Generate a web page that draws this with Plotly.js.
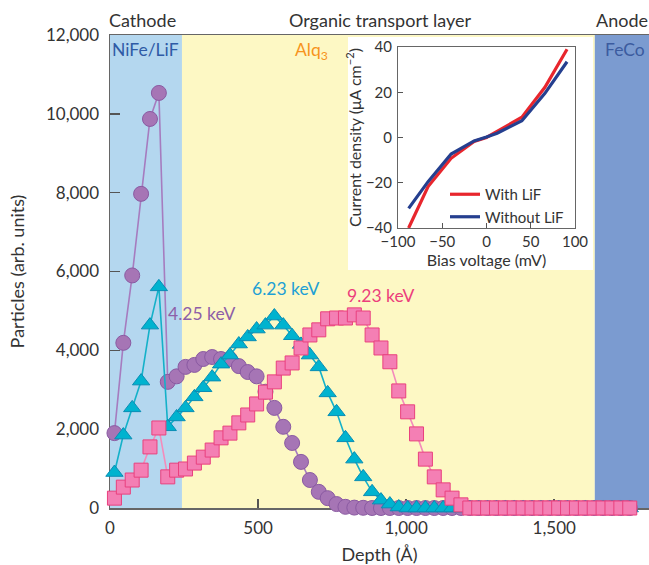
<!DOCTYPE html>
<html>
<head>
<meta charset="utf-8">
<script src="https://cdn.plot.ly/plotly-3.0.1.min.js"></script>
<style>html,body{margin:0;padding:0;background:#fff;}#chart{width:649px;height:565px;}</style>
</head>
<body>
<div id="chart"></div>
<script>
// ---- Main panel data (depth in Å, particles in arb. units) ----
const depth = [15,45,75,105,135,165,195,225,255,285,315,345,375,405,435,465,495,525,555,585,615,645,675,705,735,765,795,825,855,885,915,945,975,1005,1035,1065,1095,1125,1155,1185,1215,1245,1275,1305,1335,1365,1395,1425,1455,1485,1515,1545,1575,1605,1635,1665,1695,1725,1755];
const kev425 = [1900,4190,5900,7970,9870,10530,3200,3340,3580,3630,3780,3830,3780,3780,3600,3450,3340,2950,2540,2060,1650,1170,710,410,250,100,30,10,5,0,0,0,0,0,0,0,0,0,0,0,0,0,0,0,0,0,0,0,0,0,0,0,0,0,0,0,0,0,0];
const kev623 = [900,1850,2540,3220,4640,5610,2060,2310,2540,2820,3050,3320,3650,3880,4160,4340,4540,4640,4870,4640,4370,4150,3880,3580,2920,2440,1780,1240,790,410,200,100,25,0,0,0,0,0,0,0,0,0,0,0,0,0,0,0,0,0,0,0,0,0,0,0,0,0,0];
const kev923 = [250,530,710,960,1550,2030,790,960,990,1140,1290,1470,1780,1900,2160,2360,2640,2940,3200,3550,3680,4060,4390,4520,4800,4820,4820,4900,4820,4390,4060,3710,2970,2440,1880,1240,790,460,250,80,0,0,0,0,0,0,0,0,0,0,0,0,0,0,0,0,0,0,0];
const seriesNames = ["4.25 keV","6.23 keV","9.23 keV"];
const depthTicks = [0,500,1000,1500];
const particleTicks = [0,2000,4000,6000,8000,10000,12000];
// layer boundaries (Å)
const layerBounds = [0,243,1637,1820];
const layerNames = ["Cathode","Organic transport layer","Anode"];
const materialNames = ["NiFe/LiF","Alq<sub>3</sub>","FeCo"];

// ---- Inset data ----
const bias = [-88,-66,-40,-14,0,12,40,66,91];
const withLiF = [-40,-21.7,-9.2,-1.7,0,2.6,9,22.2,39];
const withoutLiF = [-31.3,-19.5,-7.3,-1.5,0.2,1.9,7.4,19.5,33.5];
const insetNames = ["With LiF","Without LiF"];
const biasTicks = [-100,-50,0,50,100];
const currentTicks = [-40,-20,0,20,40];

// pixel helpers for layout placement
const L=110, R=649, T=35, B=508;
const px = x => (x-L)/(R-L);
const py = y => (B-y)/(B-T);
const FONT = "Lato, 'Open Sans', sans-serif";

const mk = (sym, size, fill, edge) => ({symbol:sym, size:size, color:fill, line:{color:edge, width:1}});

const traces = [
  {x:depth, y:kev425, name:seriesNames[0], type:'scatter', mode:'lines+markers', cliponaxis:false, showlegend:false,
   line:{color:'#a67cbf', width:1.6}, marker:mk('circle',15,'#a675b5','#8a5aa2'), xaxis:'x', yaxis:'y'},
  {x:depth, y:kev623, name:seriesNames[1], type:'scatter', mode:'lines+markers', cliponaxis:false, showlegend:false,
   line:{color:'#14b1c9', width:1.6}, marker:mk('triangle-up',15,'#00b3cf','#0a8db4'), xaxis:'x', yaxis:'y'},
  {x:depth, y:kev923, name:seriesNames[2], type:'scatter', mode:'lines+markers', cliponaxis:false, showlegend:false,
   line:{color:'#f48bbb', width:1.6}, marker:mk('square',14,'#f47fb4','#e9407e'), xaxis:'x', yaxis:'y'},
  {x:bias, y:withLiF, name:insetNames[0], type:'scatter', mode:'lines', line:{color:'#e8262d', width:3.2}, xaxis:'x2', yaxis:'y2'},
  {x:bias, y:withoutLiF, name:insetNames[1], type:'scatter', mode:'lines', line:{color:'#253f8f', width:3.2}, xaxis:'x2', yaxis:'y2'}
];

const layerColors = ['#b4d7ef','#fdf8c4','#7b9bd0'];
const shapes = [];
for (let i=0;i<3;i++){
  shapes.push({type:'rect', xref:'x', yref:'paper', x0:layerBounds[i], x1:layerBounds[i+1], y0:0, y1:1,
    fillcolor:layerColors[i], line:{width:0}, layer:'below'});
}
// inset white panel
shapes.push({type:'rect', xref:'paper', yref:'paper', x0:px(348), x1:px(593), y0:py(270), y1:py(37),
  fillcolor:'#ffffff', line:{width:0}, layer:'below'});

const ann = (text, xpx, ypx, color, size, anchor) => ({text:text, xref:'paper', yref:'paper', x:px(xpx), y:py(ypx),
  xanchor:anchor||'left', yanchor:'middle', showarrow:false, font:{family:FONT, size:size, color:color}});

const annotations = [
  ann(layerNames[0], 107, 20, '#333333', 18),
  ann(layerNames[1], 380, 20, '#333333', 18, 'center'),
  ann(layerNames[2], 594, 20, '#333333', 18),
  ann(materialNames[0], 110, 49, '#2f5ba6', 17.5),
  ann(materialNames[1], 293, 51, '#f7941d', 17.5),
  ann(materialNames[2], 603, 49, '#3b5b9f', 17.5),
  ann(seriesNames[0], 166, 313, '#8e5fa8', 17.5),
  ann(seriesNames[1], 250, 288, '#1ea0d4', 17.5),
  ann(seriesNames[2], 345, 295, '#ec3e7c', 17.5)
];

const axisCommon = {showgrid:false, zeroline:false, showline:true, linecolor:'#666', ticks:'inside', tickcolor:'#555'};

const layout = {
  width:649, height:565,
  margin:{l:L, r:649-R, t:T, b:565-B, pad:0},
  paper_bgcolor:'#ffffff', plot_bgcolor:'rgba(0,0,0,0)',
  font:{family:FONT, color:'#333333'},
  xaxis:Object.assign({}, axisCommon, {domain:[0,1], range:[layerBounds[0], layerBounds[3]], tickvals:depthTicks, tickformat:',',
    ticklen:9, tickwidth:1.5, linewidth:1.5, mirror:true, layer:'below traces',
    tickfont:{family:FONT, size:17, color:'#333'}, ticklabelstandoff:4,
    title:{text:'Depth (Å)', font:{family:FONT, size:18, color:'#333'}, standoff:11}}),
  yaxis:Object.assign({}, axisCommon, {domain:[0,1], range:[0,12000], tickvals:particleTicks, tickformat:',',
    ticklen:10, tickwidth:1.5, linewidth:1.5, layer:'below traces',
    tickfont:{family:FONT, size:17, color:'#333'}, ticklabelstandoff:6,
    title:{text:'Particles (arb. units)', font:{family:FONT, size:18, color:'#333'}, standoff:16}}),
  xaxis2:Object.assign({}, axisCommon, {domain:[px(398), px(575)], anchor:'y2', range:[-100,100], tickvals:biasTicks,
    ticklen:5, tickwidth:1, linewidth:1, mirror:true, tickfont:{family:FONT, size:15, color:'#333'}, ticklabelstandoff:0,
    title:{text:'Bias voltage (mV)', font:{family:FONT, size:16, color:'#333'}, standoff:2}}),
  yaxis2:Object.assign({}, axisCommon, {domain:[py(228), py(47)], anchor:'x2', range:[-40,40], tickvals:currentTicks,
    ticklen:5, tickwidth:1, linewidth:1, mirror:true, tickfont:{family:FONT, size:15, color:'#333'}, ticklabelstandoff:2,
    title:{text:'Current density (μA cm<sup>−2</sup>)', font:{family:FONT, size:16, color:'#333'}, standoff:0}}),
  showlegend:true,
  legend:{x:px(445), y:py(178), xanchor:'left', yanchor:'top', bgcolor:'rgba(0,0,0,0)', borderwidth:0,
    font:{family:FONT, size:15, color:'#333'}, itemwidth:30, tracegroupgap:0},
  shapes:shapes,
  annotations:annotations
};

Plotly.newPlot('chart', traces, layout, {displayModeBar:false, staticPlot:true});
</script>
</body>
</html>
